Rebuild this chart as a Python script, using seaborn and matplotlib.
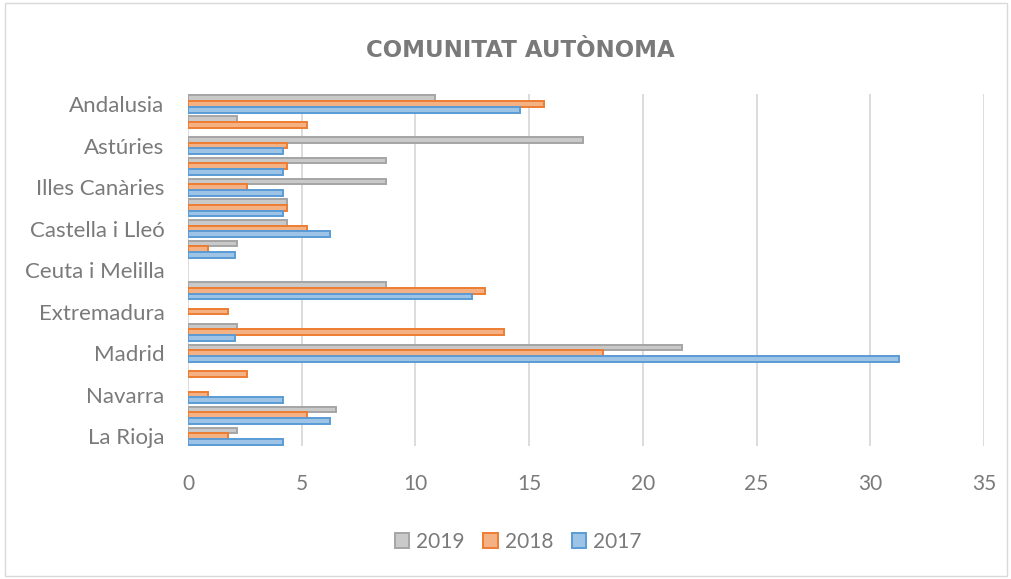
import pandas as pd
import matplotlib.pyplot as plt
from matplotlib.patches import Patch, Rectangle
import seaborn as sns

# data: percentages per autonomous community (2019 n=46, 2018 n=115, 2017 n=48)
communities = [
    "Andalusia", "Aragó", "Astúries", "Illes Balears", "Illes Canàries",
    "Cantàbria", "Castella i Lleó", "Castella-la Manxa", "Ceuta i Melilla",
    "Comunitat Valenciana", "Extremadura", "Galícia", "Madrid", "Múrcia",
    "Navarra", "País Basc", "La Rioja",
]
years = ["2019", "2018", "2017"]
vals_2019 = [10.87, 2.17, 17.39, 8.70, 8.70, 4.35, 4.35, 2.17, 0, 8.70, 0, 2.17, 21.74, 0, 0, 6.52, 2.17]
vals_2018 = [15.65, 5.22, 4.35, 4.35, 2.61, 4.35, 5.22, 0.87, 0, 13.04, 1.74, 13.91, 18.26, 2.61, 0.87, 5.22, 1.74]
vals_2017 = [14.58, 0, 4.17, 4.17, 4.17, 4.17, 6.25, 2.08, 0, 12.50, 0, 2.08, 31.25, 0, 4.17, 6.25, 4.17]

fills = {"2019": "#c9c9c9", "2018": "#f4b183", "2017": "#9dc3e6"}
edges = {"2019": "#a5a5a5", "2018": "#ed7d31", "2017": "#5b9bd5"}
txt_color = "#7a7a7a"

df = pd.DataFrame({
    "comunitat": communities * 3,
    "any": ["2019"] * 17 + ["2018"] * 17 + ["2017"] * 17,
    "valor": vals_2019 + vals_2018 + vals_2017,
})

sns.set_style("white")
plt.rcParams["font.family"] = ["Lato", "DejaVu Sans"]

fig = plt.figure(figsize=(10.12, 5.79), dpi=100)
ax = fig.add_axes([0.1858, 0.229, 0.7865, 0.6093])

sns.barplot(
    data=df, x="valor", y="comunitat", hue="any", order=communities,
    hue_order=years, orient="h", width=0.82, palette=fills, legend=False, ax=ax,
)

for cont, yr in zip(ax.containers, years):
    for p in cont:
        p.set_facecolor(fills[yr])
        p.set_edgecolor(edges[yr])
        p.set_linewidth(1.4)
        if p.get_width() == 0:
            p.set_visible(False)

ax.set_xlim(0, 35)
ax.set_ylim(16.5, -0.5)
ax.set_xticks(range(0, 36, 5))
ax.set_yticks(range(len(communities)))
ax.set_yticklabels([c if i % 2 == 0 else "" for i, c in enumerate(communities)])
ax.set_xlabel("")
ax.set_ylabel("")
ax.xaxis.grid(True, color="#d9d9d9", lw=1.3)
ax.set_axisbelow(True)
for s in ax.spines.values():
    s.set_visible(False)
ax.tick_params(axis="y", length=0, pad=17, labelsize=16, labelcolor=txt_color)
ax.tick_params(axis="x", length=0, pad=20, labelsize=15, labelcolor=txt_color)

fig.text(0.514, 0.913, "COMUNITAT AUTÒNOMA", ha="center", va="center",
         fontsize=16.5, fontweight="bold", color="#7a7a7a",
         family=["DejaVu Sans"])

handles = [Patch(facecolor=fills[y], edgecolor=edges[y], lw=1.4, label=y) for y in years]
fig.legend(handles=handles, loc="center", bbox_to_anchor=(0.512, 0.064), ncol=3,
           frameon=False, fontsize=15, labelcolor=txt_color, handlelength=0.7,
           handleheight=0.7, handletextpad=0.33, columnspacing=0.9)

fig.patches.append(Rectangle((0.005, 0.005), 0.99, 0.99, transform=fig.transFigure,
                             fill=False, edgecolor="#d9d9d9", lw=1))

fig.savefig("out.png", dpi=100)
